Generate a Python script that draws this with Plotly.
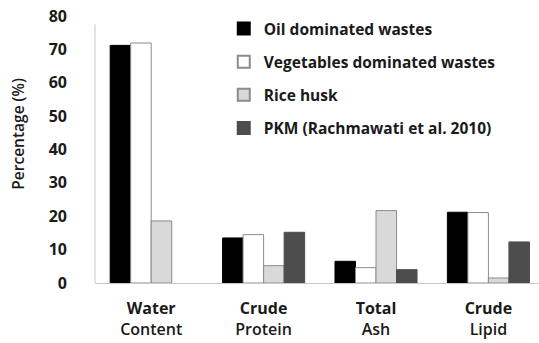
import plotly.graph_objects as go

categories = ["<b>Water</b><br>Content", "<b>Crude</b><br>Protein",
              "<b>Total</b><br>Ash", "<b>Crude</b><br>Lipid"]
oil = [71.2, 13.5, 6.5, 21.2]
vegetables = [71.9, 14.5, 4.6, 21.1]
rice_husk = [18.6, 5.2, 21.7, 1.5]
pkm = [None, 15.2, 4.0, 12.3]
y_ticks = [0, 10, 20, 30, 40, 50, 60, 70, 80]

FONT = "Open Sans"
INK = "#1a1a1a"

series = [
    ("Oil dominated wastes", oil, "#000000", "#000000"),
    ("Vegetables dominated wastes", vegetables, "#ffffff", "#8c8c8c"),
    ("Rice husk", rice_husk, "#d9d9d9", "#8c8c8c"),
    ("PKM (Rachmawati et al. 2010)", pkm, "#4d4d4d", "#4d4d4d"),
]

fig = go.Figure()
for i, (name, vals, fill, edge) in enumerate(series):
    fig.add_trace(go.Bar(
        x=categories, y=vals, name=name, legendgroup=f"g{i}",
        marker=dict(color=fill, line=dict(color=edge, width=1)),
    ))

fig.update_layout(
    width=539, height=343,
    margin=dict(l=95, r=0, t=16, b=60),
    paper_bgcolor="white", plot_bgcolor="white",
    barmode="group", bargap=0.27, bargroupgap=0,
    font=dict(family=FONT, color=INK),
    showlegend=True,
    legend=dict(
        x=0.29, y=1.015, xanchor="left", yanchor="top",
        font=dict(family=FONT, size=15.5, color=INK, weight="bold"),
        tracegroupgap=10, bgcolor="rgba(0,0,0,0)", itemsizing="constant",
    ),
    xaxis=dict(
        range=[-0.5, 3.45], showline=True, linecolor="#c8c8c8", linewidth=1,
        ticks="", tickfont=dict(family=FONT, size=16, color=INK, weight=600),
        ticklabelstandoff=11, showgrid=False,
    ),
    yaxis=dict(
        range=[0, 80], tickvals=y_ticks, showline=False, showgrid=False,
        zeroline=False, ticks="",
        tickfont=dict(family=FONT, size=16, color=INK, weight="bold"),
        ticklabelstandoff=27,
    ),
    shapes=[dict(type="line", xref="paper", yref="y", x0=0, x1=0, y0=0, y1=77.5,
                 line=dict(color="#c8c8c8", width=1))],
    annotations=[dict(
        text="Percentage (%)", textangle=-90, showarrow=False,
        xref="paper", yref="paper", x=-0.173, y=0.56,
        xanchor="center", yanchor="middle",
        font=dict(family=FONT, size=15.5, color=INK, weight=600),
    )],
)

fig.write_html("out.html")
